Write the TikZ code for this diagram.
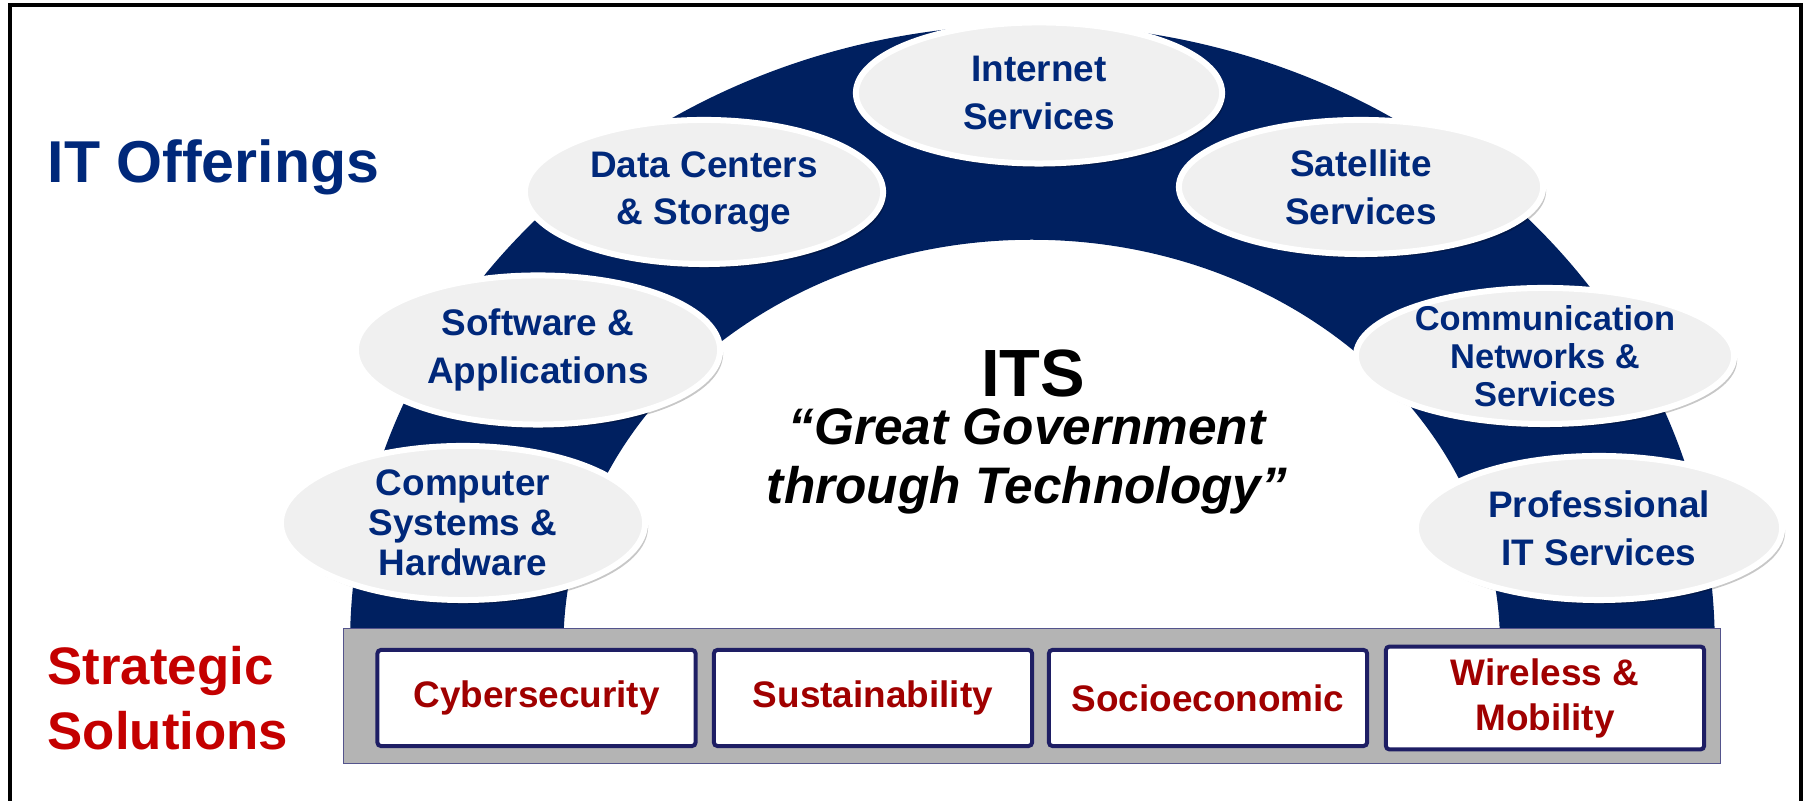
\documentclass[tikz,border=0pt]{standalone}
\usepackage{fontspec}
\setmainfont{Liberation Sans}
\usetikzlibrary{shapes.geometric}
\usetikzlibrary{shadows}

\definecolor{archnavy}{RGB}{0,32,96}
\definecolor{textnavy}{RGB}{0,40,122}
\definecolor{ovalgray}{RGB}{240,240,240}
\definecolor{offred}{RGB}{196,0,0}
\definecolor{boxred}{RGB}{160,0,0}
\definecolor{boxnavy}{RGB}{30,30,100}
\definecolor{barline}{RGB}{84,84,140}
\definecolor{bargray}{RGB}{180,180,180}

\begin{document}
\begin{tikzpicture}[
  x=0.01cm,y=0.01cm,
  offer/.style={ellipse,draw=white,line width=0.06cm,fill=ovalgray,text=textnavy,
    align=center,inner xsep=-10pt,inner ysep=-12pt,
    minimum width=3.66cm,minimum height=1.44cm,
    font=\fontsize{10.5}{13.6}\selectfont\bfseries,
    drop shadow={shadow xshift=0.03cm,shadow yshift=-0.04cm,fill=black,opacity=0.22}},
  sol/.style={rectangle,draw=boxnavy,line width=0.04cm,rounded corners=1pt,fill=white,
    text=boxred,align=center,minimum width=3.18cm,minimum height=0.96cm,
    font=\fontsize{10.5}{12.8}\selectfont\bfseries},
  side/.style={anchor=base west,align=left,inner sep=0pt}
]
  \useasboundingbox (0,0) rectangle (1806,801);
  \draw[line width=0.04cm] (10,0) -- (10,796) -- (1801,796) -- (1801,0);

  \fill[archnavy] (350,156) arc[start angle=180,end angle=0,x radius=6.82cm,y radius=6.2cm]
    -- (1500,156) arc[start angle=0,end angle=180,x radius=4.68cm,y radius=4.05cm] -- cycle;

  \node[side,text=textnavy,font=\fontsize{16.8}{20}\selectfont\bfseries](offerings) at (47,618){IT Offerings};
  \node[side,text=offred,font=\fontsize{15}{18.5}\selectfont\bfseries](strategic) at (47,51){Strategic\\Solutions};

  \node[draw=barline,line width=0.01cm,fill=bargray,minimum width=13.76cm,minimum height=1.34cm,inner sep=0pt](bar) at (1032,105){};
  \node[sol](cyber) at (536.5,103){Cybersecurity};
  \node[sol](sustain) at (873,103){Sustainability};
  \node[sol](socio) at (1208,103){Socioeconomic};
  \node[sol](wireless) at (1545,103){Wireless \&\\Mobility};

  \node[offer,minimum width=3.64cm,minimum height=1.54cm,font=\fontsize{10.5}{11.4}\selectfont\bfseries](compsys) at (463,278){Computer\\Systems \&\\Hardware};
  \node[offer,minimum width=3.64cm,minimum height=1.49cm](software) at (538,451){Software \&\\Applications};
  \node[offer,minimum width=3.58cm](datactr) at (704,609){Data Centers\\\& Storage};
  \node[offer,minimum width=3.66cm,minimum height=1.41cm](internet) at (1039,708){Internet\\Services};
  \node[offer,minimum width=3.64cm,minimum height=1.34cm](satellite) at (1361,614){Satellite\\Services};
  \node[offer,minimum width=3.78cm,minimum height=1.36cm,font=\fontsize{9.8}{10.8}\selectfont\bfseries](commnet) at (1545,445){Communication\\Networks \&\\Services};
  \node[offer,minimum width=3.66cm](profit) at (1599,273){Professional\\IT Services};

  \node[inner sep=0pt,anchor=base,font=\fontsize{19}{22}\selectfont\bfseries](its) at (1033,404){ITS};
  \node[inner sep=0pt,anchor=base,align=center,font=\fontsize{14.6}{16.8}\selectfont\bfseries\itshape](motto) at (1027,297){“Great Government\\through Technology”};
\end{tikzpicture}
\end{document}
